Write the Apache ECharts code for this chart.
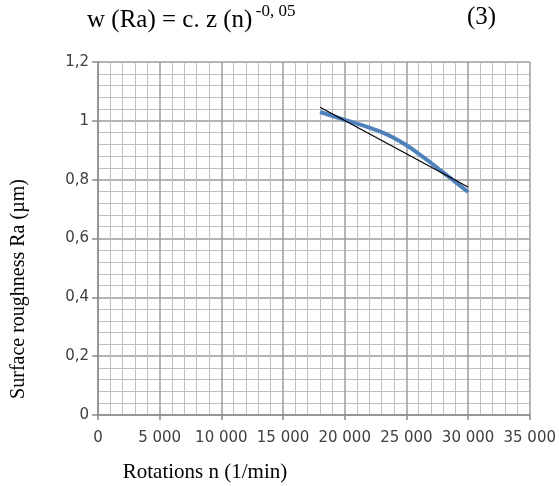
<!DOCTYPE html>
<html>
<head>
<meta charset="utf-8">
<script src="https://cdn.jsdelivr.net/npm/echarts@6/dist/echarts.min.js"></script>
<style>html,body{margin:0;padding:0;background:#fff;}#c{width:559px;height:486px;}</style>
</head>
<body>
<div id="c"></div>
<script>
var measuredX = [18000, 20000, 22000, 24000, 26000, 28000, 30000];
var measuredRa = [1.03, 1.003, 0.977, 0.942, 0.888, 0.824, 0.758];
var trendX = [18000, 30000];
var trendRa = [1.046, 0.775];
var xTicks = [0, 5000, 10000, 15000, 20000, 25000, 30000, 35000];
var yTicks = [0, 0.2, 0.4, 0.6, 0.8, 1, 1.2];

function pairs(xs, ys) { return xs.map(function (x, i) { return [x, ys[i]]; }); }

var chart = echarts.init(document.getElementById('c'), null, {renderer: 'canvas'});
chart.setOption({
  animation: false,
  backgroundColor: '#fff',
  grid: {left: 98, right: 29, top: 62, bottom: 71, containLabel: false},
  graphic: [
    {type: 'text', left: 87, top: 3, style: {
      text: '{m|w (Ra) = c. z (n)} {s|-0, 05}',
      rich: {
        m: {fontFamily: 'Liberation Serif', fontSize: 25, fill: '#000', verticalAlign: 'bottom', lineHeight: 30},
        s: {fontFamily: 'Liberation Serif', fontSize: 17, fill: '#000', verticalAlign: 'top', lineHeight: 30, padding: [0, 0, 14, 0]}
      }
    }},
    {type: 'text', left: 467, top: 5, style: {text: '(3)', fontFamily: 'Liberation Serif', fontSize: 25, fill: '#000'}},
    {type: 'text', x: 19, y: 289, rotation: Math.PI / 2, style: {
      text: 'Surface roughness Ra (\u00b5m)', fontFamily: 'Liberation Serif', fontSize: 20, fill: '#000',
      align: 'center', verticalAlign: 'middle'}},
    {type: 'text', x: 205, y: 472, style: {
      text: 'Rotations n (1/min)', fontFamily: 'Liberation Serif', fontSize: 21, fill: '#000',
      align: 'center', verticalAlign: 'middle'}}
  ],
  xAxis: {
    type: 'value', min: xTicks[0], max: xTicks[xTicks.length - 1], interval: 5000,
    axisLine: {show: true, lineStyle: {color: '#8c8c8c', width: 1.5}},
    axisTick: {show: true, length: 5, lineStyle: {color: '#8c8c8c', width: 1.5}},
    axisLabel: {margin: 16, fontFamily: 'DejaVu Sans', fontSize: 15, color: '#404040',
      formatter: function (v) { return v === 0 ? '0' : (v / 1000) + ' 000'; }},
    splitLine: {show: true, lineStyle: {color: '#9c9c9c', width: 1.5}},
    minorTick: {show: false, splitNumber: 5},
    minorSplitLine: {show: true, lineStyle: {color: '#c0c0c0', width: 1}}
  },
  yAxis: {
    type: 'value', min: yTicks[0], max: yTicks[yTicks.length - 1], interval: 0.2,
    axisLine: {show: true, lineStyle: {color: '#8c8c8c', width: 1.5}},
    axisTick: {show: true, length: 6, lineStyle: {color: '#8c8c8c', width: 1.5}},
    axisLabel: {margin: 9, fontFamily: 'DejaVu Sans', fontSize: 15, color: '#404040',
      formatter: function (v) { var s = String(Math.round(v * 10) / 10); return s.replace('.', ','); }},
    splitLine: {show: true, lineStyle: {color: '#9c9c9c', width: 1.5}},
    minorTick: {show: false, splitNumber: 5},
    minorSplitLine: {show: true, lineStyle: {color: '#c0c0c0', width: 1}}
  },
  series: [
    {type: 'line', data: pairs(measuredX, measuredRa), smooth: true, showSymbol: false,
      lineStyle: {color: '#4f81bd', width: 4}, z: 3},
    {type: 'line', data: pairs(trendX, trendRa), showSymbol: false,
      lineStyle: {color: '#000', width: 1.2}, z: 4}
  ]
});
</script>
</body>
</html>
